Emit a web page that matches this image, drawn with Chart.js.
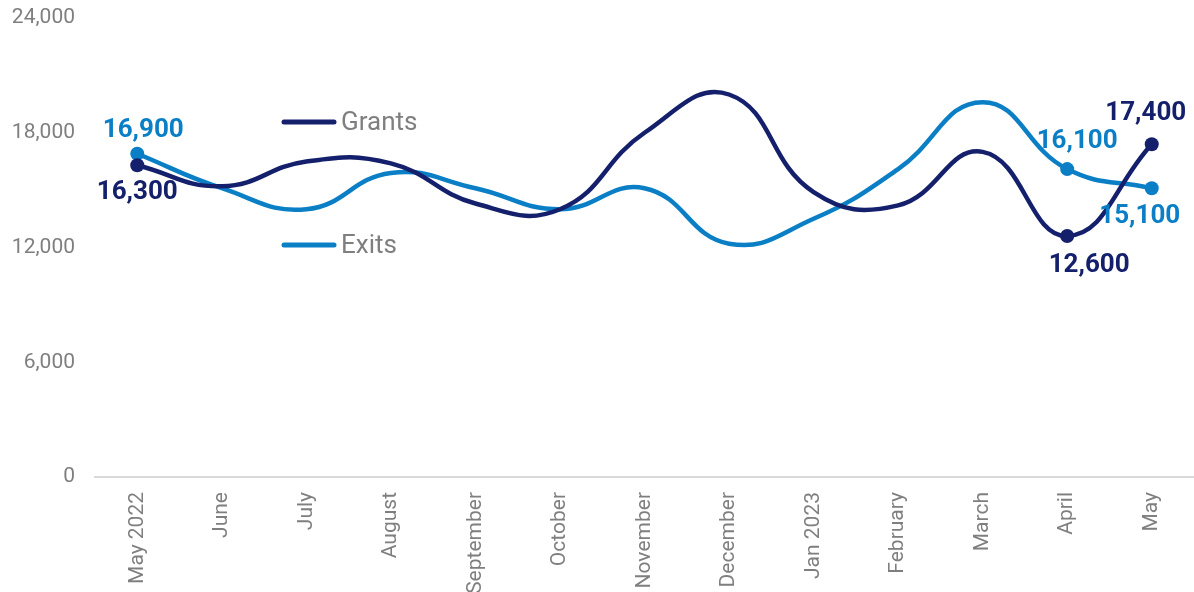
<!DOCTYPE html>
<html>
<head>
<meta charset="utf-8">
<script src="https://cdn.jsdelivr.net/npm/chart.js@4.4.0/dist/chart.umd.min.js"></script>
<style>
  body { margin: 0; background: #fff; }
  #wrap { width: 1194px; height: 592px; position: relative; }
</style>
</head>
<body>
<div id="wrap"><canvas id="grants-exits"></canvas></div>
<script>
const months = ["May 2022", "June", "July", "August", "September", "October", "November",
                "December", "Jan 2023", "February", "March", "April", "May"];
const grants = [16300, 15200, 16500, 16400, 14300, 14000, 18000, 20000, 14900, 14200, 17000, 12600, 17400];
const exits  = [16900, 15100, 14000, 15900, 15100, 14000, 15100, 12200, 13500, 16100, 19600, 16100, 15100];
const yTicks = [0, 6000, 12000, 18000, 24000];

const navy = "#15206c";
const blue = "#0a7fc6";
const grey = "#7f7f7f";

// which points get a dot and a value label (dataset, index, label offset)
const markers = [
    { ds: 0, i: 0,  dx: 0,   dy: 27 },
    { ds: 1, i: 0,  dx: 6,   dy: -23 },
    { ds: 0, i: 11, dx: 22,  dy: 29 },
    { ds: 1, i: 11, dx: 10,  dy: -28 },
    { ds: 0, i: 12, dx: -6,  dy: -31 },
    { ds: 1, i: 12, dx: -12, dy: 28 }
];

const fmt = v => v.toLocaleString("en-US");

const hasMarker = (ds, i) => markers.some(m => m.ds === ds && m.i === i);

// value labels next to the marked points
const valueLabels = {
    id: "valueLabels",
    afterDatasetsDraw(chart) {
        const ctx = chart.ctx;
        ctx.save();
        ctx.font = "700 26px Roboto";
        ctx.textAlign = "center";
        ctx.textBaseline = "middle";
        markers.forEach(m => {
            const ds = chart.data.datasets[m.ds];
            const pt = chart.getDatasetMeta(m.ds).data[m.i];
            ctx.fillStyle = ds.borderColor;
            ctx.fillText(fmt(ds.data[m.i]), pt.x + m.dx, pt.y + m.dy);
        });
        ctx.restore();
    }
};

// legend sits inside the plot, one entry per row
const innerLegend = {
    id: "innerLegend",
    afterDraw(chart, args, opts) {
        const ctx = chart.ctx;
        ctx.save();
        ctx.font = "26px Roboto";
        ctx.textBaseline = "middle";
        chart.data.datasets.forEach((ds, k) => {
            const y = opts.rows[k];
            ctx.strokeStyle = ds.borderColor;
            ctx.lineWidth = 5;
            ctx.lineCap = "round";
            ctx.beginPath();
            ctx.moveTo(opts.x, y);
            ctx.lineTo(opts.x + 50, y);
            ctx.stroke();
            ctx.fillStyle = grey;
            ctx.fillText(ds.label, opts.x + 57, y + 1);
        });
        ctx.restore();
    }
};

const ctx = document.getElementById("grants-exits").getContext("2d");

new Chart(ctx, {
    type: "line",
    data: {
        labels: months,
        datasets: [
            {
                label: "Grants",
                data: grants,
                borderColor: navy,
                backgroundColor: navy,
                borderWidth: 4.5,
                tension: 0.45,
                pointRadius: c => hasMarker(0, c.dataIndex) ? 7 : 0,
                pointBackgroundColor: navy,
                pointBorderWidth: 0
            },
            {
                label: "Exits",
                data: exits,
                borderColor: blue,
                backgroundColor: blue,
                borderWidth: 4.5,
                tension: 0.45,
                pointRadius: c => hasMarker(1, c.dataIndex) ? 7 : 0,
                pointBackgroundColor: blue,
                pointBorderWidth: 0
            }
        ]
    },
    options: {
        responsive: true,
        maintainAspectRatio: false,
        animation: false,
        layout: { autoPadding: false, padding: { top: 18, right: 0, left: 0, bottom: 0 } },
        plugins: {
            legend: { display: false },
            tooltip: { enabled: false },
            innerLegend: { x: 284, rows: [122, 245] }
        },
        scales: {
            x: {
                offset: true,
                grid: { display: false, drawTicks: false },
                border: { display: true, color: "#d9d9d9", width: 2 },
                ticks: {
                    color: grey,
                    font: { family: "Roboto", size: 21 },
                    minRotation: 90,
                    maxRotation: 90,
                    padding: 15,
                    autoSkip: false
                },
                afterFit: s => {
                    s.height = 115;
                    s.paddingLeft = 0;
                    s.paddingRight = 0;
                }
            },
            y: {
                min: 0,
                max: 24000,
                grid: { display: false, drawTicks: false },
                border: { display: false },
                afterBuildTicks: s => { s.ticks = yTicks.map(v => ({ value: v })); },
                ticks: {
                    color: grey,
                    font: { family: "Roboto", size: 21 },
                    padding: 20,
                    callback: v => fmt(v)
                },
                afterFit: s => {
                    s.width = 95;
                    s.paddingTop = 0;
                    s.paddingBottom = 0;
                }
            }
        }
    },
    plugins: [valueLabels, innerLegend]
});
</script>
</body>
</html>
